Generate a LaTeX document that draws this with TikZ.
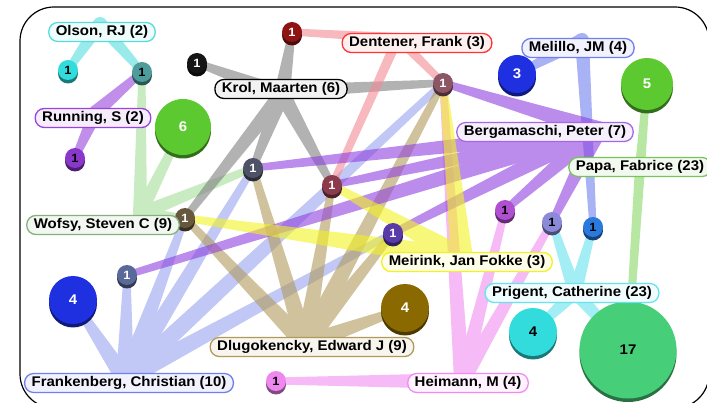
\documentclass[tikz,border=0pt]{standalone}
\usepackage{fontspec}
\setmainfont{Liberation Sans}[FakeStretch=1.07]
\usepackage{xcolor}
\usetikzlibrary{calc,shadows,backgrounds}

% group colours (labels and bands)
\definecolor{olsonc}{HTML}{55DDDD}
\definecolor{runningc}{HTML}{9944DD}
\definecolor{krolc}{HTML}{7F7F7F}
\definecolor{dentenerc}{HTML}{F28A94}
\definecolor{melilloc}{HTML}{6F7FEF}
\definecolor{bergac}{HTML}{9040E0}
\definecolor{papac}{HTML}{88D866}
\definecolor{wofsyc}{HTML}{A6DE98}
\definecolor{meirinkc}{HTML}{F2F222}
\definecolor{prigentc}{HTML}{66E4EE}
\definecolor{dlugoc}{HTML}{B09A5A}
\definecolor{frankenc}{HTML}{98A4F0}
\definecolor{heimannc}{HTML}{F08CF0}
% disc colours
\definecolor{dcyan}{HTML}{33DCDC}
\definecolor{dteal}{HTML}{4E9C9C}
\definecolor{dblack}{HTML}{151515}
\definecolor{dred}{HTML}{8E1414}
\definecolor{dmauve}{HTML}{8C5664}
\definecolor{dblue}{HTML}{1E30E0}
\definecolor{dgreen}{HTML}{5CC930}
\definecolor{dpurple}{HTML}{8A38CC}
\definecolor{dslate}{HTML}{4E5266}
\definecolor{drose}{HTML}{8A3C4C}
\definecolor{dolive}{HTML}{66583E}
\definecolor{dmagenta}{HTML}{B050D0}
\definecolor{dlav}{HTML}{8A8AD8}
\definecolor{dsky}{HTML}{2A7ADE}
\definecolor{dviolet}{HTML}{5A3AA8}
\definecolor{dslateblue}{HTML}{5A6A98}
\definecolor{dgold}{HTML}{8A6A00}
\definecolor{dmint}{HTML}{46CE78}
\definecolor{dpink}{HTML}{EE88EE}

% tapered band: colour, hub, paper, half width at the hub
\newcommand\bandfan[4]{%
  \fill[#1] ($(#2)!#4!90:(#3)$) -- ($(#3)!3.5pt!-90:(#2)$)
    -- ($(#3)!3.5pt!90:(#2)$) -- ($(#2)!#4!-90:(#3)$) -- cycle;}

\begin{document}
\begin{tikzpicture}[x=1pt, y=-1pt,
  disc/.style={circle, fill=#1, inner sep=0pt, minimum size=20pt, text=white,
    font=\fontsize{12}{12}\selectfont\bfseries,
    drop shadow={shadow xshift=0pt, shadow yshift=-3.5pt, fill=#1!55!black, opacity=1}},
  big/.style={minimum size=#1, font=\fontsize{14}{14}\selectfont\bfseries},
  tag/.style={draw=#1, fill=#1!10, line width=1.3pt, rounded corners=9pt,
    inner xsep=7pt, inner ysep=0pt, minimum height=19pt, text=black,
    font=\fontsize{14}{14}\selectfont\bfseries},
  group/.style={transparency group, opacity=0.6}]
\useasboundingbox (0,0) rectangle (707,403);
\clip (0,0) rectangle (707,403);
\draw[line width=1.2pt, rounded corners=34pt] (20,7) rectangle (709,408);

% papers (discs)
\node[disc=dcyan, text=black] (cyanone) at (68,70) {1};
\node[disc=dteal, text=black] (tealone) at (142,72) {1};
\node[disc=dblack] (blackone) at (197,63) {1};
\node[disc=dred] (redone) at (292,32) {1};
\node[disc=dmauve] (mauveone) at (443,83) {1};
\node[disc=dblue, big=38pt] (bluethree) at (517,74) {3};
\node[disc=dgreen, big=52pt] (greenfive) at (647,84) {5};
\node[disc=dgreen, big=56pt] (greensix) at (183,127) {6};
\node[disc=dpurple, text=black] (purpleone) at (75,158) {1};
\node[disc=dslate] (slateone) at (253,168) {1};
\node[disc=drose] (roseone) at (332,185) {1};
\node[disc=dolive] (oliveone) at (185,218) {1};
\node[disc=dmagenta, text=black] (magentaone) at (505,210) {1};
\node[disc=dlav, text=black] (lavone) at (552,222) {1};
\node[disc=dsky, text=black] (skyone) at (593,227) {1};
\node[disc=dviolet] (violetone) at (393,233) {1};
\node[disc=dslateblue] (slateblueone) at (127,275) {1};
\node[disc=dblue, big=48pt] (bluefour) at (73,300) {4};
\node[disc=dgold, big=48pt] (goldfour) at (405,308) {4};
\node[disc=dcyan, text=black, big=48pt] (cyanfour) at (533,332) {4};
\node[disc=dmint, text=black, big=97pt] (mintseventeen) at (628,350) {17};
\node[disc=dpink, text=black] (pinkone) at (276,381) {1};

% authors
\node[tag=olsonc] (olson) at (102,32) {Olson, RJ (2)};
\node[tag=runningc] (running) at (93,118) {Running, S (2)};
\node[tag=black, fill=gray!10] (krol) at (281,89) {Krol, Maarten (6)};
\node[tag=red!80!white, fill=red!6] (dentener) at (417,43) {Dentener, Frank (3)};
\node[tag=melilloc] (melillo) at (578,48) {Melillo, JM (4)};
\node[tag=bergac!80!white] (berga) at (545,132) {Bergamaschi, Peter (7)};
\node[tag=papac!90!black] (papa) at (640,167) {Papa, Fabrice (23)};
\node[tag=wofsyc!80!black] (wofsy) at (103,225) {Wofsy, Steven C (9)};
\node[tag=meirinkc] (meirink) at (467,262) {Meirink, Jan Fokke (3)};
\node[tag=prigentc] (prigent) at (572,293) {Prigent, Catherine (23)};
\node[tag=dlugoc] (dlugo) at (312,347) {Dlugokencky, Edward J (9)};
\node[tag=melilloc] (franken) at (129,383) {Frankenberg, Christian (10)};
\node[tag=heimannc] (heimann) at (468,383) {Heimann, M (4)};

% hubs where the bands of one author meet
\coordinate (olsonhub) at (100,24);
\coordinate (runninghub) at (96,112);
\coordinate (krolhub) at (282,94);
\coordinate (krolside) at (330,89);
\coordinate (dentenerhub) at (398,38);
\coordinate (melillohub) at (582,40);
\coordinate (bergahub) at (598,130);
\coordinate (papahub) at (640,167);
\coordinate (wofsyhub) at (140,214);
\coordinate (meirinkhub) at (462,258);
\coordinate (prigenthub) at (575,292);
\coordinate (dlugohub) at (305,344);
\coordinate (frankenhub) at (125,379);
\coordinate (heimannhub) at (462,381);

\begin{pgfonlayer}{background}
\fill[white] (0,0) rectangle (707,403);
\begin{scope}[group]
\fill[wofsyc] (wofsyhub) circle (7pt);
\foreach \n in {greensix,tealone,slateone,oliveone} \bandfan{wofsyc}{wofsyhub}{\n}{7pt};
\end{scope}
\begin{scope}[group]
\foreach \n in {greenfive,mintseventeen} \bandfan{papac}{papahub}{\n}{5pt};
\end{scope}
\begin{scope}[group]
\fill[prigentc] (prigenthub) circle (7pt);
\foreach \n in {cyanfour,mintseventeen,lavone,skyone} \bandfan{prigentc}{prigenthub}{\n}{7pt};
\end{scope}
\begin{scope}[group]
\fill[olsonc] (olsonhub) circle (7pt);
\foreach \n in {cyanone,tealone} \bandfan{olsonc}{olsonhub}{\n}{7pt};
\end{scope}
\begin{scope}[group]
\fill[runningc] (runninghub) circle (7pt);
\foreach \n in {tealone,purpleone} \bandfan{runningc}{runninghub}{\n}{7pt};
\end{scope}
\begin{scope}[group]
\fill[melilloc] (melillohub) circle (7pt);
\foreach \n in {bluethree,skyone} \bandfan{melilloc}{melillohub}{\n}{7pt};
\end{scope}
\begin{scope}[group]
\fill[heimannc] (heimannhub) circle (8pt);
\foreach \n in {pinkone,mauveone,magentaone,lavone} \bandfan{heimannc}{heimannhub}{\n}{8pt};
\end{scope}
\begin{scope}[group]
\fill[frankenc] (frankenhub) circle (9pt);
\foreach \n in {bluefour,slateblueone,oliveone,slateone,roseone,mauveone,violetone}
  \bandfan{frankenc}{frankenhub}{\n}{9pt};
\end{scope}
\begin{scope}[group]
\fill[dlugoc] (dlugohub) circle (9pt);
\foreach \n in {goldfour,oliveone,slateone,roseone,mauveone,violetone}
  \bandfan{dlugoc}{dlugohub}{\n}{9pt};
\end{scope}
\begin{scope}[group]
\fill[krolc] (krolhub) circle (8pt);
\foreach \n in {blackone,redone,slateone,roseone,oliveone} \bandfan{krolc}{krolhub}{\n}{8pt};
\bandfan{krolc}{krolside}{mauveone}{6pt}
\end{scope}
\begin{scope}[group]
\fill[dentenerc] (dentenerhub) circle (5pt);
\foreach \n in {redone,roseone,mauveone} \bandfan{dentenerc}{dentenerhub}{\n}{5pt};
\end{scope}
\begin{scope}[group]
\fill[bergac] (bergahub) circle (9pt);
\foreach \n in {mauveone,slateone,roseone,violetone,slateblueone,magentaone,lavone}
  \bandfan{bergac}{bergahub}{\n}{9pt};
\end{scope}
\begin{scope}[group]
\fill[meirinkc] (meirinkhub) circle (11pt);
\foreach \n in {mauveone,roseone,oliveone} \bandfan{meirinkc}{meirinkhub}{\n}{11pt};
\end{scope}
\end{pgfonlayer}
\end{tikzpicture}
\end{document}
